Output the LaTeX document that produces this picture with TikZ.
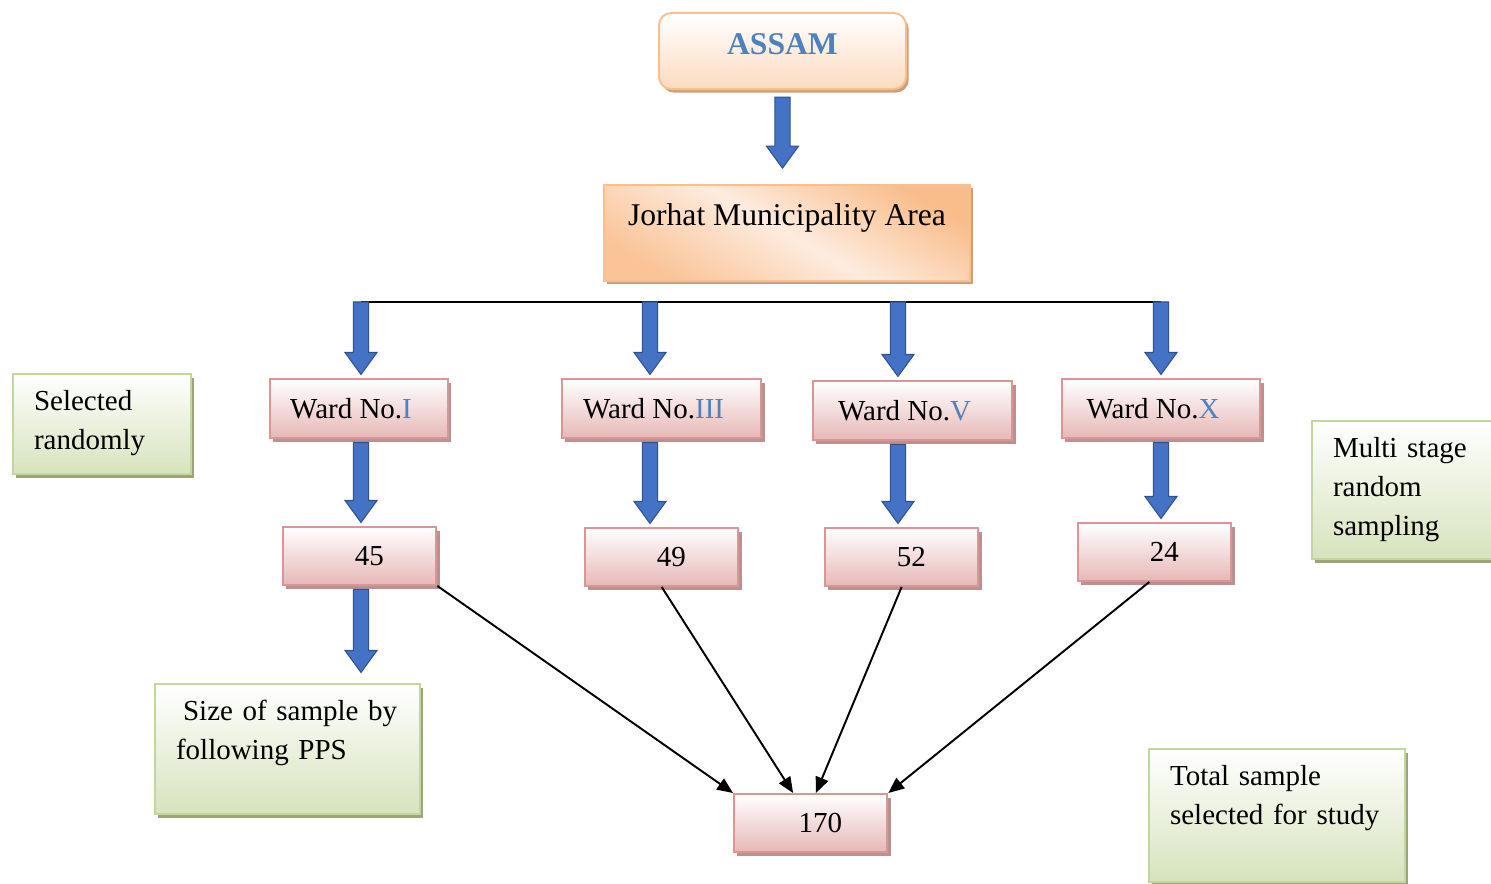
\documentclass[tikz,border=0pt]{standalone}
\usepackage{fontspec}
\setmainfont{Liberation Serif}
\usetikzlibrary{shadows,arrows.meta,shapes,positioning,calc}

\definecolor{romanblue}{RGB}{79,129,189}
\definecolor{arrowfill}{RGB}{68,114,196}
\definecolor{arrowline}{RGB}{47,82,143}
\definecolor{wardline}{RGB}{217,150,148}
\definecolor{wardfill}{RGB}{230,184,183}
\definecolor{wardshadow}{RGB}{185,145,145}
\definecolor{noteline}{RGB}{195,214,155}
\definecolor{notefill}{RGB}{214,227,188}
\definecolor{noteshadow}{RGB}{155,165,125}
\definecolor{stateline}{RGB}{250,191,143}
\definecolor{statefill}{RGB}{249,189,139}
\definecolor{statelight}{RGB}{253,236,222}
\definecolor{stateshadow}{RGB}{205,160,125}

\begin{document}
\begin{tikzpicture}
[x=0.02cm,y=-0.02cm,
every node/.style={font=\fontsize{16.5}{22.2}\selectfont,inner sep=0pt,anchor=north west},
statebox/.style={shape=rectangle,draw=stateline,line width=1.1pt,
  drop shadow={shadow xshift=1.5pt,shadow yshift=-2pt,fill=stateshadow,opacity=1}},
pinkbox/.style={shape=rectangle,draw=wardline,line width=1.1pt,top color=white,bottom color=wardfill,
  drop shadow={shadow xshift=2pt,shadow yshift=-2.5pt,fill=wardshadow,opacity=1}},
wardbox/.style={pinkbox,minimum height=33.6pt,execute at end node=\hspace*{9pt}},
numbox/.style={pinkbox,minimum width=87.3pt,minimum height=33pt,execute at begin node=\hspace*{11pt}},
notebox/.style={shape=rectangle,draw=noteline,line width=1.1pt,top color=white,bottom color=notefill,
  align=left,inner xsep=12pt,text height=21pt,
  drop shadow={shadow xshift=2pt,shadow yshift=-2.5pt,fill=noteshadow,opacity=1}},
blockarrow/.style={draw=arrowline,fill=arrowfill,line width=0.6pt,
  to path={let \p1=(\tikztostart),\p2=(\tikztotarget) in
  (\x1-4.3pt,\y1) -- (\x1-4.3pt,\y2+12.5pt) -- (\x1-9.1pt,\y2+12.5pt) -- (\x1,\y2)
  -- (\x1+9.1pt,\y2+12.5pt) -- (\x1+4.3pt,\y2+12.5pt) -- (\x1+4.3pt,\y1) -- cycle}},
busline/.style={line width=1.7pt},
sumedge/.style={line width=1.1pt,-{Triangle[length=9pt,width=7.5pt]}}]

\useasboundingbox (0,0) rectangle (1491,884);

\node (assam) [statebox,rounded corners=7pt,top color=white,bottom color=statefill!55!white,
  minimum width=140.6pt,text height=23.9pt,text depth=19.4pt,
  font=\fontsize{18}{22}\selectfont\bfseries,text=romanblue] at (658,12) {ASSAM};
\node (jorhat) [statebox,top color=statefill,bottom color=statefill!85!statelight,middle color=statelight,
  shading angle=-30,minimum width=208.3pt,text height=22.8pt,text depth=31.8pt,
  font=\fontsize{18}{22}\selectfont] at (603,184) {Jorhat Municipality Area};

\coordinate (bus1) at (361,302);
\coordinate (bus3) at (650,302);
\coordinate (bus5) at (898,302);
\coordinate (bus10) at (1161,302);

\node (w1) [wardbox,minimum width=101.3pt] at (269,378) {Ward No.\textcolor{romanblue}{I}};
\node (w3) [wardbox,minimum width=113.3pt] at (561,378) {Ward No.\textcolor{romanblue}{III}};
\node (w5) [wardbox,minimum width=113.3pt] at (812,380) {Ward No.\textcolor{romanblue}{V}};
\node (w10) [wardbox,minimum width=112.7pt] at (1061,378) {Ward No.\textcolor{romanblue}{X}};

\node (n45) [numbox] at (282,526) {45};
\node (n49) [numbox] at (584,527) {49};
\node (n52) [numbox] at (824,527) {52};
\node (n24) [numbox] at (1077,522) {24};
\node (n170) [numbox] at (733,793) {170};

\node (sel) [notebox,text width=77.3pt,text depth=35.9pt] at (12,373) {Selected\\randomly};
\node (multi) [notebox,text width=84pt,text depth=57.5pt] at (1311,420) {Multi stage\\random\\sampling};
\node (size) [notebox,text width=126.8pt,text depth=53pt] at (154,683) {\hspace*{4pt}Size of sample by\\following PPS};
\node (total) [notebox,text width=121.7pt,text depth=54.6pt] at (1148,748) {Total sample\\selected for study};

\draw[blockarrow] ([yshift=-4pt]assam.south) to ([yshift=9pt]assam.south |- jorhat.north);
\draw[busline] (bus1) -- (bus10);
\foreach \w/\n in {1/45,3/49,5/52,10/24} {
  \draw[blockarrow] (bus\w) to ([yshift=2pt]w\w.north -| bus\w);
  \draw[blockarrow] ([yshift=-2pt]w\w.south -| bus\w) to ([yshift=2pt]n\n.north -| bus\w);
}
\draw[blockarrow] ([yshift=-2pt]n45.south -| bus1) to ([yshift=6pt]size.north -| bus1);

\draw[sumedge] (n45.south east) -- (n170.north west);
\draw[sumedge] (n49.south) -- ([xshift=-10pt]n170.north);
\draw[sumedge] (n52.south) -- ([xshift=3pt]n170.north);
\draw[sumedge] ([xshift=-3pt]n24.south) -- (n170.north east);

\end{tikzpicture}
\end{document}
